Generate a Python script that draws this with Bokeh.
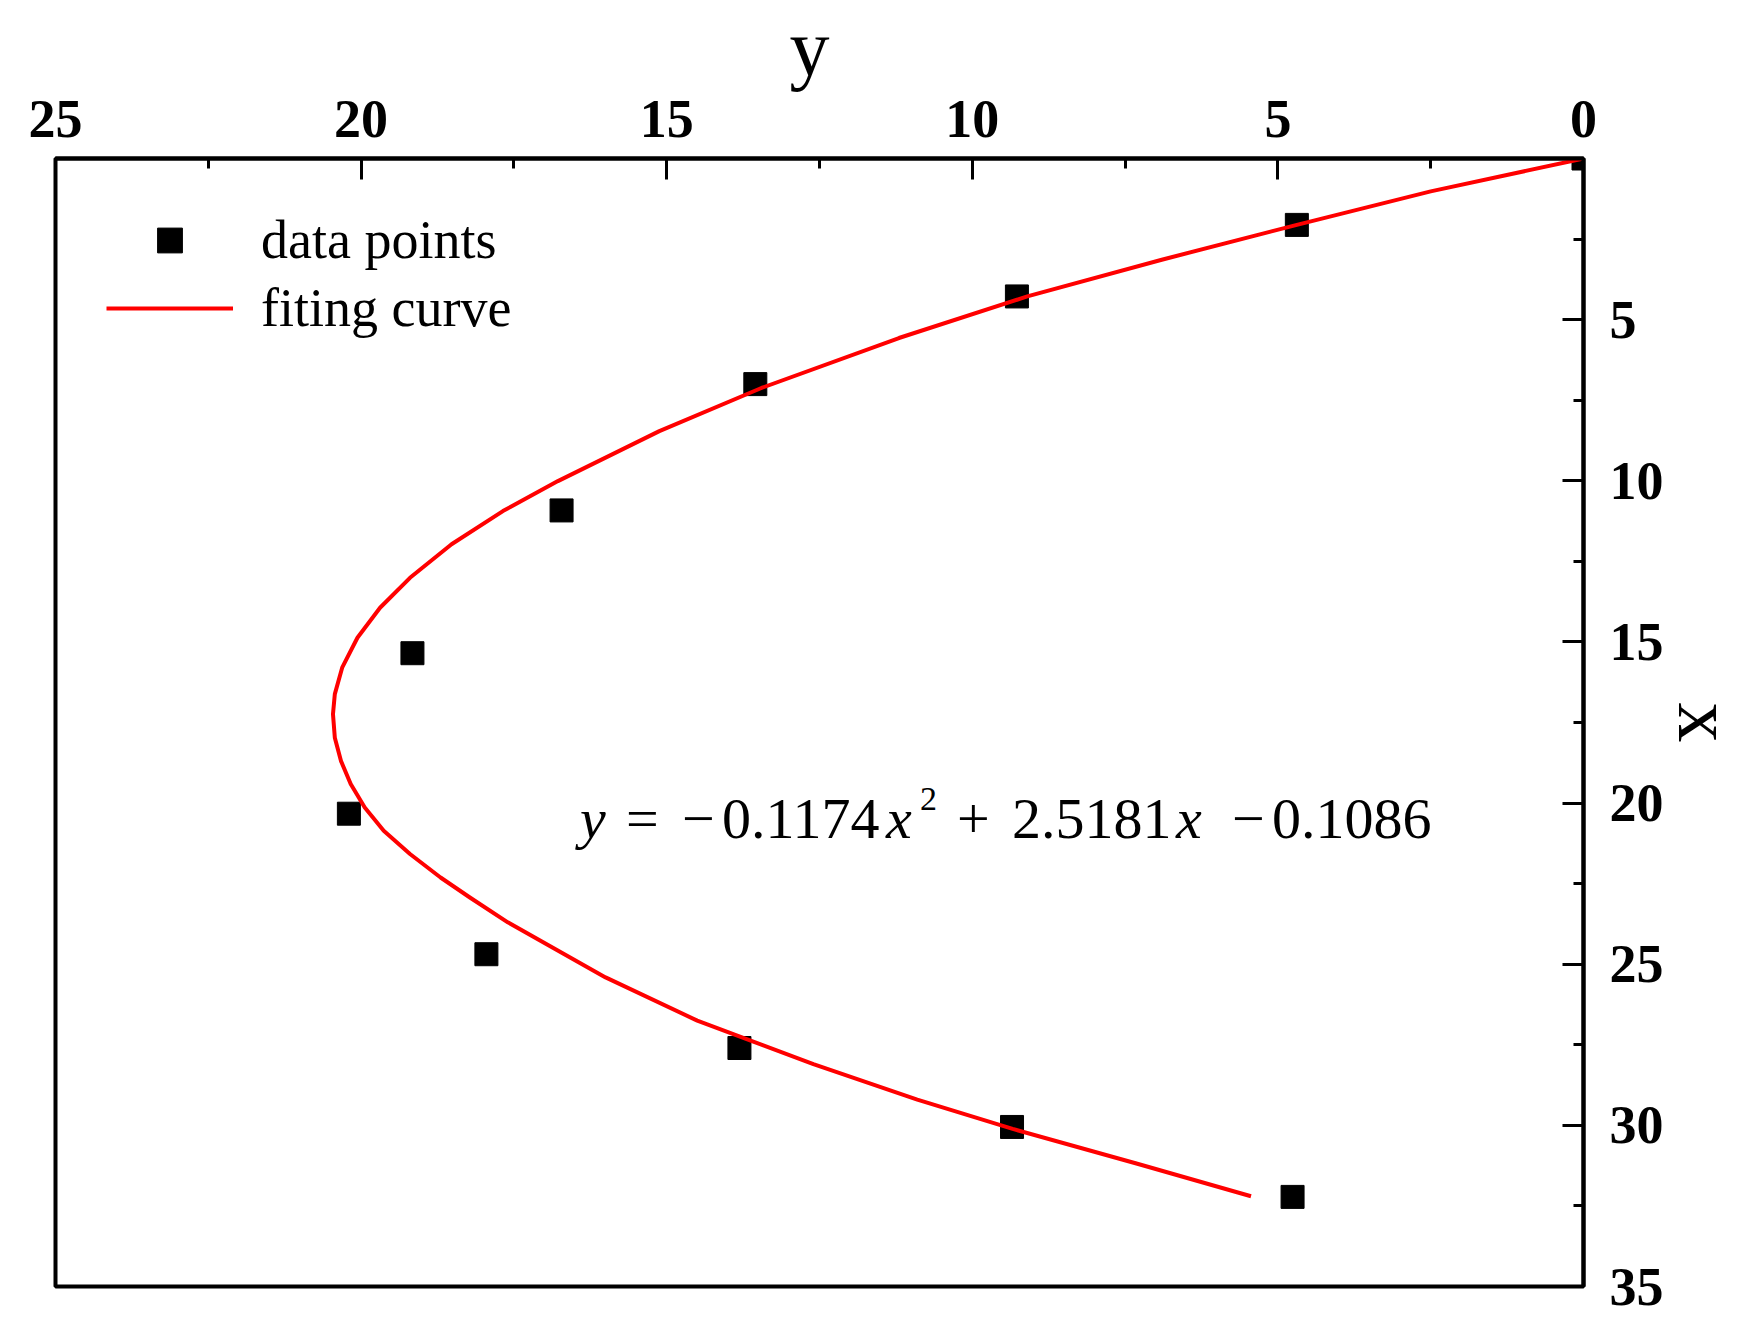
from bokeh.plotting import figure
from bokeh.models import Range1d, LinearAxis, SingleIntervalTicker, Legend, LegendItem, Label
from bokeh.embed import file_html
from bokeh.resources import INLINE

# ---- data (x = vertical axis, y = horizontal axis) ----
pts_x = [0, 2.06, 4.28, 7.00, 10.92, 15.35, 20.33, 24.69, 27.60, 30.05, 32.22]
pts_y = [0, 4.69, 9.27, 13.55, 16.72, 19.16, 20.20, 17.95, 13.81, 9.35, 4.76]

curve_x = [0, 1.02, 2.06, 3.14, 4.28, 5.57, 7.12, 8.46, 10.01, 10.94, 11.97, 13.01, 13.94,
           14.87, 15.80, 16.62, 17.24, 17.97, 18.69, 19.41, 20.14, 20.86, 21.58, 22.31,
           22.93, 23.70, 25.41, 26.75, 28.10, 29.20, 30.11, 31.19, 32.20]
curve_y = [0, 2.50, 4.69, 6.90, 9.10, 11.20, 13.45, 15.12, 16.78, 17.68, 18.52, 19.20, 19.69,
           20.06, 20.31, 20.43, 20.46, 20.43, 20.33, 20.17, 19.94, 19.63, 19.20, 18.70,
           18.22, 17.60, 16.00, 14.50, 12.60, 10.90, 9.34, 7.30, 5.44]

legend_labels = ["data points", "fiting curve"]
axis_titles = [" y", "x"]

# equation pieces: (text, offset px from start, italic, superscript)
eq_pieces = [("y", 2, True, False), ("=", 48, False, False), ("\u2212", 104, False, False),
             ("0.1174", 144, False, False), ("x", 308, True, False), ("2", 342, False, True),
             ("+", 379, False, False), ("2.5181", 434, False, False), ("x", 598, True, False),
             ("\u2212", 654, False, False), ("0.1086", 694, False, False)]

SERIF = "Liberation Serif"

p = figure(width=1754, height=1330,
           x_range=Range1d(25, 0), y_range=Range1d(35, 0),
           output_backend="svg", toolbar_location=None,
           x_axis_location=None, y_axis_location=None,
           min_border_left=55, min_border_right=171, min_border_top=158, min_border_bottom=44)
p.background_fill_color = "white"
p.border_fill_color = "white"
p.outline_line_color = "black"
p.outline_line_width = 4
for g in p.grid:
    g.visible = False

def style_axis(ax, standoff, title, title_standoff):
    ax.axis_line_width = 4
    ax.axis_line_color = "black"
    ax.major_tick_in = 21
    ax.major_tick_out = 0
    ax.minor_tick_in = 10
    ax.minor_tick_out = 0
    ax.major_tick_line_width = 3
    ax.minor_tick_line_width = 3
    ax.major_tick_line_color = "black"
    ax.minor_tick_line_color = "black"
    ax.major_label_text_font = SERIF
    ax.major_label_text_font_style = "bold"
    ax.major_label_text_font_size = "54px"
    ax.major_label_text_color = "black"
    ax.major_label_standoff = standoff
    ax.axis_label = title
    ax.axis_label_text_font = SERIF
    ax.axis_label_text_font_style = "normal"
    ax.axis_label_text_font_size = "80px"
    ax.axis_label_text_color = "black"
    ax.axis_label_standoff = title_standoff

ax_top = LinearAxis(ticker=SingleIntervalTicker(interval=5, num_minor_ticks=2))
style_axis(ax_top, 22, axis_titles[0], 6)
p.add_layout(ax_top, "above")

ax_right = LinearAxis(ticker=SingleIntervalTicker(interval=5, num_minor_ticks=2))
style_axis(ax_right, 26, axis_titles[1], -5)
ax_right.major_label_overrides = {0: ""}
p.add_layout(ax_right, "right")

sq = p.scatter(pts_y, pts_x, marker="square", size=23, fill_color="black", line_color="black")
ln = p.line(curve_y, curve_x, line_color="#ff0000", line_width=4, line_join="round")

legend = Legend(items=[LegendItem(label=legend_labels[0], renderers=[sq]),
                       LegendItem(label=legend_labels[1], renderers=[ln])],
                location="top_left", margin=51, padding=0, spacing=6,
                glyph_width=127, glyph_height=62, label_height=62, label_standoff=28,
                label_text_font=SERIF, label_text_font_size="54px", label_text_color="black",
                border_line_color=None, background_fill_alpha=0)
p.add_layout(legend)

# equation
eq_x = 16.45
eq_base = 20.49
eq_sup = 19.86
for txt, off, ital, sup in eq_pieces:
    p.add_layout(Label(x=eq_x, y=eq_sup if sup else eq_base, x_offset=off, text=txt,
                       text_font=SERIF, text_font_size="34px" if sup else "58px",
                       text_font_style="italic" if ital else "normal",
                       text_align="left", text_baseline="alphabetic", text_color="black"))

open("out.html", "w").write(file_html(p, INLINE))
